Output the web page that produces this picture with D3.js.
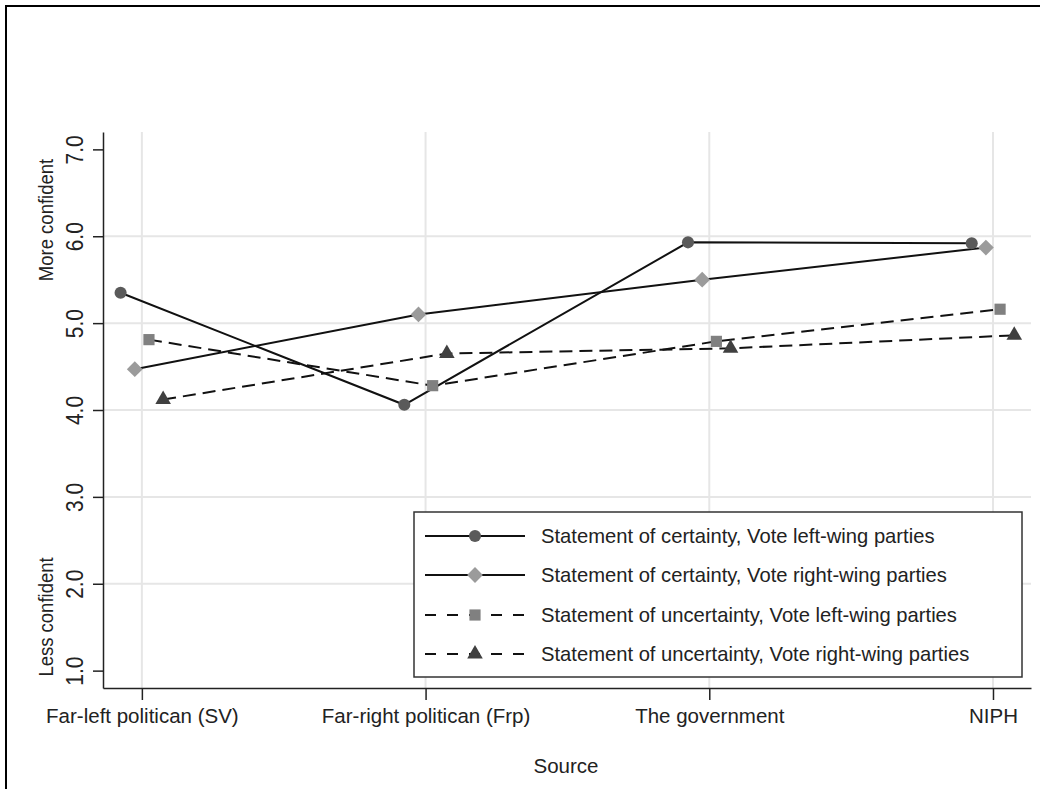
<!DOCTYPE html>
<html>
<head>
<meta charset="utf-8">
<script src="https://cdn.jsdelivr.net/npm/d3@7"></script>
<style>
  html, body { margin: 0; padding: 0; background: #fff; }
  svg { display: block; font-family: "Liberation Sans", Arial, sans-serif; }
</style>
</head>
<body>
<svg id="chart" width="1040" height="789"></svg>
<script>
// ---- data ----
const categories = ["Far-left politican (SV)", "Far-right politican (Frp)", "The government", "NIPH"];
const certaintyLeft    = [5.35, 4.06, 5.93, 5.92];
const certaintyRight   = [4.47, 5.10, 5.50, 5.87];
const uncertaintyLeft  = [4.81, 4.28, 4.79, 5.16];
const uncertaintyRight = [4.12, 4.65, 4.71, 4.86];
const seriesNames = [
  "Statement of certainty, Vote left-wing parties",
  "Statement of certainty, Vote right-wing parties",
  "Statement of uncertainty, Vote left-wing parties",
  "Statement of uncertainty, Vote right-wing parties"
];
const yTicks = [1, 2, 3, 4, 5, 6, 7];
const gridTicks = [2, 3, 4, 5, 6];
const xTitle = "Source";
const yTopLabel = "More confident";
const yBottomLabel = "Less confident";

// ---- styles ----
const seriesStyle = [
  { symbol: d3.symbolCircle,   size: 115, rotate: 0,  fill: "#5a5a5a", dash: null, legendDash: null },
  { symbol: d3.symbolSquare,   size: 125, rotate: 45, fill: "#9b9b9b", dash: null, legendDash: null },
  { symbol: d3.symbolSquare,   size: 125, rotate: 0,  fill: "#808080", dash: "13,7", legendDash: "11,11" },
  { symbol: d3.symbolTriangle, size: 105, rotate: 0,  fill: "#404040", dash: "13,7", legendDash: "11,11" }
];
const dodge = [-0.075, -0.025, 0.025, 0.075];
const allSeries = [certaintyLeft, certaintyRight, uncertaintyLeft, uncertaintyRight];

const svg = d3.select("#chart");

// outer frame
svg.append("line").attr("x1", 6).attr("x2", 6).attr("y1", 5).attr("y2", 789)
  .attr("stroke", "#000").attr("stroke-width", 2);
svg.append("line").attr("x1", 5).attr("x2", 1040).attr("y1", 6).attr("y2", 6)
  .attr("stroke", "#000").attr("stroke-width", 2);

const x = d3.scaleLinear().domain([0.863, 4.134]).range([103, 1031]);
const y = d3.scaleLinear().domain([0.8, 7.2]).range([688, 132]);

// gridlines
const grid = svg.append("g");
grid.selectAll("line.h").data(gridTicks).join("line")
  .attr("x1", x.range()[0]).attr("x2", x.range()[1])
  .attr("y1", d => y(d)).attr("y2", d => y(d))
  .attr("stroke", "#e6e6e6").attr("stroke-width", 2);
grid.selectAll("line.v").data([1, 2, 3, 4]).join("line")
  .attr("y1", y.range()[0]).attr("y2", y.range()[1])
  .attr("x1", d => x(d)).attr("x2", d => x(d))
  .attr("stroke", "#e6e6e6").attr("stroke-width", 2);

// axes
const yAxis = svg.append("g").attr("transform", `translate(${x.range()[0]},0)`)
  .call(d3.axisLeft(y).tickValues(yTicks).tickFormat(d3.format(".1f")).tickSize(10).tickSizeOuter(0));
yAxis.select(".domain").attr("stroke", "#222").attr("stroke-width", 1.5);
yAxis.selectAll(".tick line").attr("stroke", "#222").attr("stroke-width", 1.5);
yAxis.selectAll(".tick text")
  .attr("x", 0).attr("dy", 0)
  .attr("text-anchor", "middle")
  .attr("transform", "translate(-20,0) rotate(-90) scale(1,1.15)")
  .attr("font-size", 21).attr("fill", "#222")
  .attr("font-family", "'Liberation Sans', Arial, sans-serif");

const xAxis = svg.append("g").attr("transform", `translate(0,${y.range()[0]})`)
  .call(d3.axisBottom(x).tickValues([1, 2, 3, 4]).tickFormat(d => categories[d - 1]).tickSize(12).tickSizeOuter(0));
xAxis.select(".domain").attr("stroke", "#222").attr("stroke-width", 1.5);
xAxis.selectAll(".tick line").attr("stroke", "#222").attr("stroke-width", 1.5);
xAxis.selectAll(".tick text")
  .attr("y", 35).attr("dy", 0)
  .attr("font-size", 20.5).attr("fill", "#222")
  .attr("font-family", "'Liberation Sans', Arial, sans-serif");

// axis titles
svg.append("text").attr("x", 566).attr("y", 773).attr("text-anchor", "middle")
  .attr("font-size", 20.5).attr("fill", "#222").text(xTitle);
svg.append("text").attr("transform", "translate(53,220) rotate(-90) scale(1,1.1)")
  .attr("text-anchor", "middle").attr("font-size", 18.5).attr("fill", "#222").text(yTopLabel);
svg.append("text").attr("transform", "translate(53,617) rotate(-90) scale(1,1.1)")
  .attr("text-anchor", "middle").attr("font-size", 18.5).attr("fill", "#222").text(yBottomLabel);

// lines
const line = d3.line().x(d => x(d[0])).y(d => y(d[1]));
allSeries.forEach((vals, si) => {
  const pts = vals.map((v, i) => [i + 1 + dodge[si], v]);
  svg.append("path").datum(pts).attr("d", line)
    .attr("fill", "none").attr("stroke", "#111").attr("stroke-width", 2)
    .attr("stroke-dasharray", seriesStyle[si].dash);
});
// markers
allSeries.forEach((vals, si) => {
  const st = seriesStyle[si];
  svg.append("g").selectAll("path").data(vals).join("path")
    .attr("d", d3.symbol().type(st.symbol).size(st.size))
    .attr("transform", (v, i) => `translate(${x(i + 1 + dodge[si])},${y(v)}) rotate(${st.rotate})`)
    .attr("fill", st.fill);
});

// legend
const lg = svg.append("g");
lg.append("rect").attr("x", 414).attr("y", 512).attr("width", 608).attr("height", 165)
  .attr("fill", "#fff").attr("stroke", "#333").attr("stroke-width", 1.5);
const rowY = [536, 575, 615, 654];
seriesNames.forEach((name, si) => {
  const st = seriesStyle[si];
  const ry = rowY[si];
  lg.append("line").attr("x1", 425).attr("x2", 525).attr("y1", ry).attr("y2", ry)
    .attr("stroke", "#111").attr("stroke-width", 2).attr("stroke-dasharray", st.legendDash);
  lg.append("path").attr("d", d3.symbol().type(st.symbol).size(st.size))
    .attr("transform", `translate(475,${ry}) rotate(${st.rotate})`).attr("fill", st.fill);
  lg.append("text").attr("x", 541).attr("y", ry + 7).attr("font-size", 20.2)
    .attr("fill", "#222").text(name);
});
</script>
</body>
</html>
